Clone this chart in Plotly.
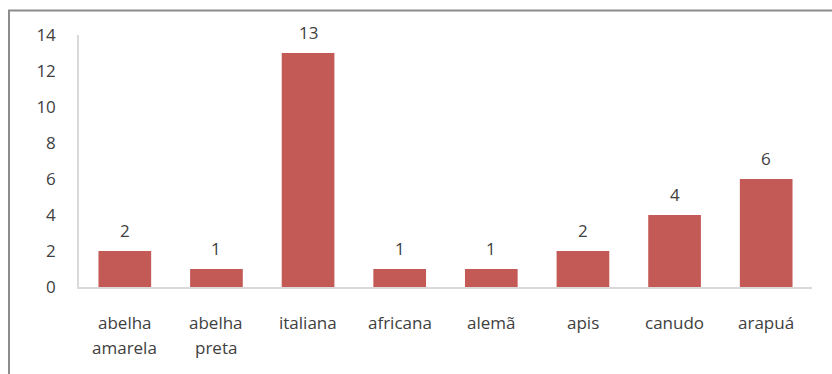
import plotly.graph_objects as go

# Bee types and number of mentions
categories = ["abelha amarela", "abelha preta", "italiana", "africana", "alemã", "apis", "canudo", "arapuá"]
label_lines = [["abelha", "amarela"], ["abelha", "preta"], ["italiana"], ["africana"], ["alemã"], ["apis"], ["canudo"], ["arapuá"]]
counts = [2, 1, 13, 1, 1, 2, 4, 6]
y_ticks = [0, 2, 4, 6, 8, 10, 12, 14]

FONT = "Open Sans"
TEXT = "#404040"
BAR = "#C45A56"

fig = go.Figure(go.Bar(x=categories, y=counts, marker=dict(color=BAR, line=dict(width=0)), width=0.575))

annotations = []
# value labels above bars
for c, v in zip(categories, counts):
    annotations.append(dict(x=c, y=v, xref="x", yref="y", text=str(v), showarrow=False,
                            yanchor="middle", yshift=21, font=dict(family=FONT, size=17, color=TEXT)))
# category labels, one annotation per line
for c, lines in zip(categories, label_lines):
    for i, ln in enumerate(lines):
        annotations.append(dict(x=c, y=0, xref="x", yref="paper", text=ln, showarrow=False,
                                yanchor="middle", yshift=-35 - 25 * i,
                                font=dict(family=FONT, size=17, color=TEXT)))

fig.update_layout(
    width=832, height=374,
    margin=dict(l=79, r=20, t=35, b=87),
    paper_bgcolor="white", plot_bgcolor="white",
    showlegend=False,
    annotations=annotations,
    xaxis=dict(showticklabels=False, showline=True, linecolor="#D9D9D9", linewidth=2,
               showgrid=False, zeroline=False, ticks="", fixedrange=True),
    yaxis=dict(range=[0, 14], tickvals=y_ticks, showline=True, linecolor="#D9D9D9", linewidth=1.5,
               showgrid=False, zeroline=False, ticks="", ticklabelstandoff=18,
               tickfont=dict(family=FONT, size=17, color=TEXT)),
    shapes=[dict(type="rect", xref="paper", yref="paper", x0=-0.0955, x1=1.2, y0=-0.4, y1=1.097,
                 line=dict(color="#8C8C8C", width=2), layer="below")],
)

fig.write_html("out.html")
